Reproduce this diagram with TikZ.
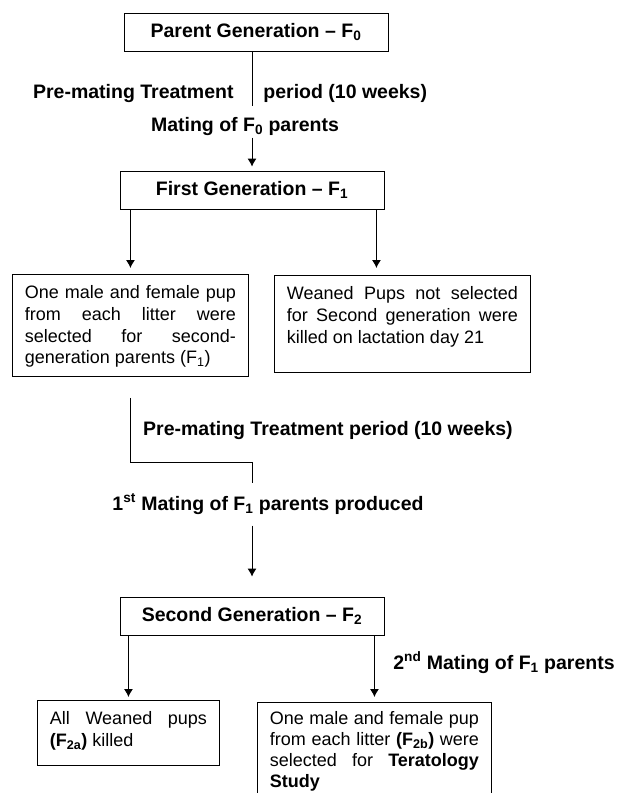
\documentclass[tikz,border=0pt]{standalone}
\usepackage{fontspec}
\setmainfont{Liberation Sans}
\usetikzlibrary{arrows.meta}
\hbadness=10000
\tolerance=10000
\hyphenpenalty=10000
\newcommand{\boxtext}[3]{\parbox[t][#2][t]{#1}{\strut #3}}
\begin{document}
\begin{tikzpicture}
    [x=1pt,y=-1pt,line width=0.9pt,>={Latex[length=8pt,width=9pt]},%
    genbox/.style={draw,minimum width=264pt,minimum height=38pt,%
      font=\fontsize{19.5}{23}\selectfont\bfseries},
    txtbox/.style={draw,anchor=north west,inner xsep=12.5pt,inner ysep=9pt,%
      font=\fontsize{18}{21.7}\selectfont},
    lbl/.style={inner sep=2pt,anchor=base,%
      font=\fontsize{19.5}{23}\selectfont\bfseries}]
    \clip (0,0) rectangle (617,793);
    \node[genbox] (P) at (256,32) {Parent Generation -- F\textsubscript{0}};
    \node[lbl,anchor=base east] (pmA) at (236,98) {Pre-mating Treatment};
    \node[lbl,anchor=base west] (pmB) at (261,98) {period (10 weeks)};
    \node[lbl] (mat0) at (245,131) {Mating of F\textsubscript{0} parents};
    \node[genbox] (F1) at (252,190) {First Generation -- F\textsubscript{1}};
    \node[txtbox] (L1) at (12,274) {\boxtext{211pt}{84pt}{One male and female
        pup\linebreak from each litter were\linebreak selected for
        second-\linebreak generation parents (F\textsubscript{1})}};
    \node[txtbox] (R1) at (274,275) {\boxtext{231pt}{79pt}{Weaned Pups not
        selected\linebreak for Second generation were\linebreak killed on
        lactation day 21}};
    \node[lbl] (pm1) at (328,435) {Pre-mating Treatment period (10 weeks)};
    \coordinate (k1) at (252,462);
    \node[lbl] (mat1) at (268,510) {1\textsuperscript{st} Mating of
      F\textsubscript{1} parents produced};
    \node[genbox] (F2) at (252,616) {Second Generation -- F\textsubscript{2}};
    \node[lbl] (mat2) at (504,669) {2\textsuperscript{nd} Mating of
      F\textsubscript{1} parents};
    \node[txtbox] (L2) at (37,700) {\boxtext{157pt}{47pt}{All Weaned
        pups\linebreak \textbf{(F\textsubscript{2a})} killed}};
    \node[txtbox,inner ysep=7pt,font=\fontsize{18}{21}\selectfont] (R2)
    at (257,702) {\boxtext{209pt}{86pt}{One male and female
        pup\linebreak from each litter \textbf{(F\textsubscript{2b})}
        were\linebreak selected for \textbf{Teratology}\linebreak
        \textbf{Study}}};

    \draw (P.south -| F1) -- ([yshift=8pt]mat0.north -| F1);
    \draw[->,shorten >=4pt] (mat0.south -| F1) -- (F1.north);

    \draw[->,shorten >=6pt] (F1.south -| L1.north) -- (L1.north);
    \draw[->,shorten >=7pt] ([xshift=-8pt]F1.south east) --
    ([xshift=-8pt]F1.south east |- R1.north);

    \draw ([yshift=-21pt]L1.south) |- (k1) -- ([yshift=8pt]mat1.north -| k1);
    \draw[->,shorten >=20pt] ([yshift=-9pt]mat1.south -| F2) -- (F2.north);

    \draw[->,shorten >=3pt] (F2.south -| L2.north) -- (L2.north);
    \draw[->,shorten >=5pt] (F2.south -| R2.north) -- (R2.north);
\end{tikzpicture}
\end{document}
